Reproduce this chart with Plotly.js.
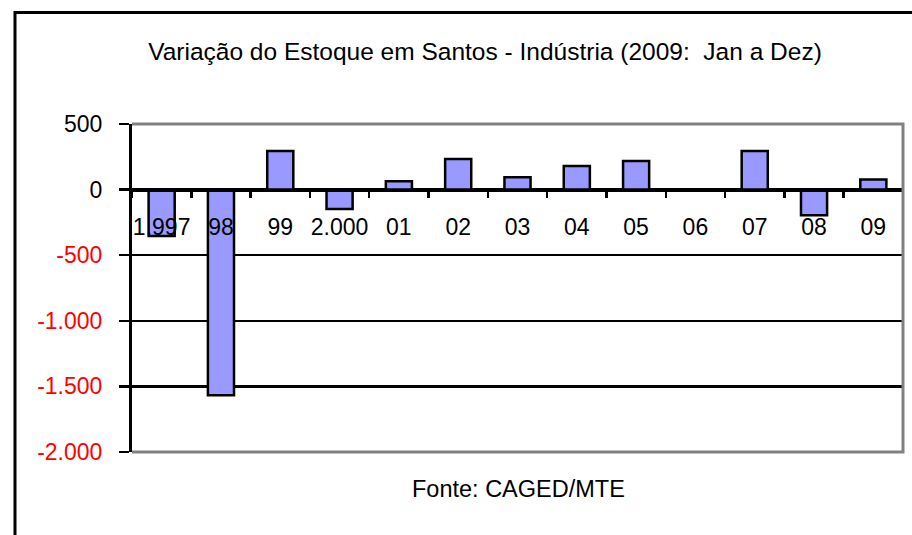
<!DOCTYPE html>
<html>
<head>
<meta charset="utf-8">
<script src="https://cdn.plot.ly/plotly-3.0.1.min.js"></script>
<style>html,body{margin:0;padding:0;background:#fff;}#chart{width:912px;height:535px;}</style>
</head>
<body>
<div id="chart"></div>
<script>
var categories = ["1.997", "98", "99", "2.000", "01", "02", "03", "04", "05", "06", "07", "08", "09"];
var values = [-354, -1567, 295, -148, 64, 233, 95, 179, 218, 0, 295, -195, 77];
var yTickVals = [500, 0, -500, -1000, -1500, -2000];
var yTickText = ["500", "0", "-500", "-1.000", "-1.500", "-2.000"];
var yTickColors = ["#000000", "#000000", "#ff0000", "#ff0000", "#ff0000", "#ff0000"];
var titleText = "Variação do Estoque em Santos - Indústria (2009:  Jan a Dez)";
var sourceText = "Fonte: CAGED/MTE";

var L = 132, R = 9, T = 124, B = 83, W = 912 - L - R, H = 535 - T - B;
function px(x) { return (x - L) / W; }
function py(y) { return (535 - B - y) / H; }

var ticktext = yTickText.map(function (t, i) {
  return '<span style="color:' + yTickColors[i] + '">' + t + '</span>';
});

var trace = {
  type: 'bar',
  x: categories,
  y: values,
  marker: { color: '#9999ff', line: { color: '#000000', width: 2.5 } },
  hoverinfo: 'x+y'
};

var layout = {
  width: 912, height: 535,
  margin: { l: L, r: R, t: T, b: B, pad: 0 },
  paper_bgcolor: '#ffffff', plot_bgcolor: '#ffffff',
  font: { family: 'Liberation Sans, Arial, sans-serif', size: 23, color: '#000000' },
  showlegend: false,
  bargap: 0.56,
  title: {
    text: titleText,
    font: { family: 'Liberation Sans, Arial, sans-serif', size: 24.5, color: '#000000' },
    x: 485 / 912, xref: 'container', xanchor: 'center',
    y: 1 - 51 / 535, yref: 'container', yanchor: 'middle'
  },
  xaxis: {
    type: 'category',
    anchor: 'free', position: 0.8,
    showline: true, linecolor: '#000000', linewidth: 3,
    showgrid: false, zeroline: false,
    ticks: 'outside', tickson: 'boundaries', ticklen: 6, tickwidth: 2.5, tickcolor: '#000000',
    tickangle: 0,
    ticklabelstandoff: 16,
    tickfont: { size: 23, color: '#000000' },
    fixedrange: true
  },
  yaxis: {
    range: [-2000, 500],
    tickvals: yTickVals, ticktext: ticktext,
    showline: true, linecolor: '#000000', linewidth: 3,
    ticks: 'outside', ticklen: 10, tickwidth: 2.5, tickcolor: '#000000',
    ticklabelstandoff: 12,
    showgrid: true, gridcolor: '#000000', gridwidth: 2.5,
    zeroline: false,
    tickfont: { size: 23 },
    fixedrange: true
  },
  shapes: [
    {
      type: 'path', xref: 'paper', yref: 'paper', layer: 'above',
      path: 'M 0 1 L 1 1 L 1 0 L 0 0',
      line: { color: '#808080', width: 3 }
    },
    {
      type: 'path', xref: 'paper', yref: 'paper', layer: 'above',
      path: 'M ' + px(15) + ' ' + py(560) + ' L ' + px(15) + ' ' + py(12.5) + ' L ' + px(930) + ' ' + py(12.5),
      line: { color: '#000000', width: 3 }
    }
  ],
  annotations: [
    {
      text: sourceText, xref: 'paper', yref: 'paper',
      x: px(518), y: py(489), xanchor: 'center', yanchor: 'middle',
      showarrow: false, font: { size: 23.5, color: '#000000' }
    }
  ]
};

Plotly.newPlot('chart', [trace], layout, { displayModeBar: false, staticPlot: true });
</script>
</body>
</html>
